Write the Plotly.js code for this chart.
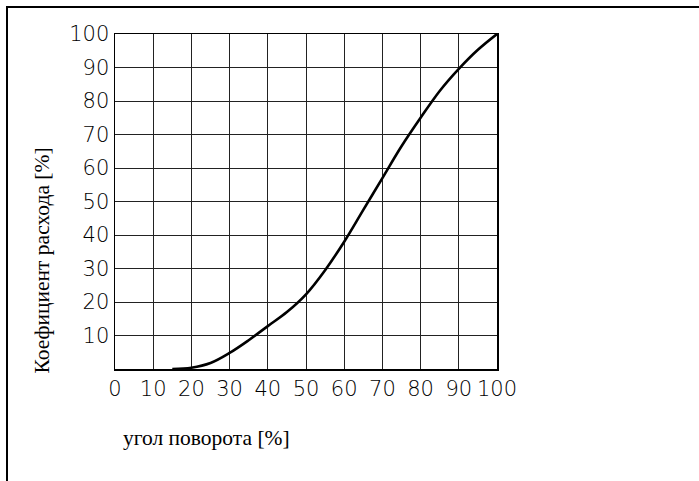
<!DOCTYPE html>
<html>
<head>
<meta charset="utf-8">
<script src="https://cdn.plot.ly/plotly-3.0.1.min.js"></script>
<style>
html,body{margin:0;padding:0;background:#fff;}
#chart{width:699px;height:481px;}
</style>
</head>
<body>
<div id="chart"></div>
<script>
// Data
const angle = [15, 20, 25, 30, 35, 40, 45, 50, 55, 60, 65, 70, 75, 80, 85, 90, 95, 100];
const flow  = [0, 0.4, 1.8, 4.8, 8.6, 12.8, 17, 22.3, 29.5, 38, 47.5, 57, 66.5, 75, 83, 89.6, 95.3, 100];
const xTicks = [0, 10, 20, 30, 40, 50, 60, 70, 80, 90, 100];
const yTicks = [10, 20, 30, 40, 50, 60, 70, 80, 90, 100];
const xTitle = 'угол поворота [%]';
const yTitle = 'Коефициент расхода [%]';

const L = 115, R = 202, T = 34, B = 112;
const W = 699, H = 481;
const pw = W - L - R, ph = H - T - B;
const px = v => (v - L) / pw;
const py = v => (H - B - v) / ph;

const tickFont = {family: 'DejaVu Sans', size: 21, weight: 200, color: '#000'};
const titleFont = {family: 'Liberation Serif, Times New Roman, serif', size: 21.5, weight: 400, color: '#000'};

const trace = {
  x: angle, y: flow, type: 'scatter', mode: 'lines',
  line: {color: '#000', width: 2.6, shape: 'spline', smoothing: 1},
  hoverinfo: 'skip'
};

const layout = {
  width: W, height: H,
  margin: {l: L, r: R, t: T, b: B, pad: 0},
  paper_bgcolor: '#fff', plot_bgcolor: '#fff',
  showlegend: false,
  xaxis: {
    range: [0, 100], tickvals: xTicks, ticktext: xTicks.map(String),
    showgrid: true, gridcolor: '#222', gridwidth: 1,
    zeroline: false, showline: true, linecolor: '#000', linewidth: 1.5, mirror: true,
    ticks: '', tickfont: tickFont, ticklabelstandoff: 0, fixedrange: true
  },
  yaxis: {
    range: [0, 100], tickvals: yTicks, ticktext: yTicks.map(String),
    showgrid: true, gridcolor: '#222', gridwidth: 1,
    zeroline: false, showline: true, linecolor: '#000', linewidth: 1.5, mirror: true,
    ticks: '', tickfont: tickFont, ticklabelstandoff: 0, fixedrange: true
  },
  annotations: [
    {text: xTitle, xref: 'paper', yref: 'paper', x: px(206), y: py(438),
     xanchor: 'center', yanchor: 'middle', showarrow: false, font: titleFont},
    {text: yTitle, xref: 'paper', yref: 'paper', x: px(41), y: py(260.5),
     xanchor: 'center', yanchor: 'middle', showarrow: false, textangle: -90, font: titleFont}
  ],
  shapes: [
    {type: 'line', xref: 'paper', yref: 'paper', x0: px(7), x1: px(7), y0: py(7), y1: py(490),
     line: {color: '#000', width: 2}},
    {type: 'line', xref: 'paper', yref: 'paper', x0: px(6), x1: px(710), y0: py(7), y1: py(7),
     line: {color: '#000', width: 2}}
  ]
};

Plotly.newPlot('chart', [trace], layout, {displayModeBar: false, staticPlot: true});
</script>
</body>
</html>
